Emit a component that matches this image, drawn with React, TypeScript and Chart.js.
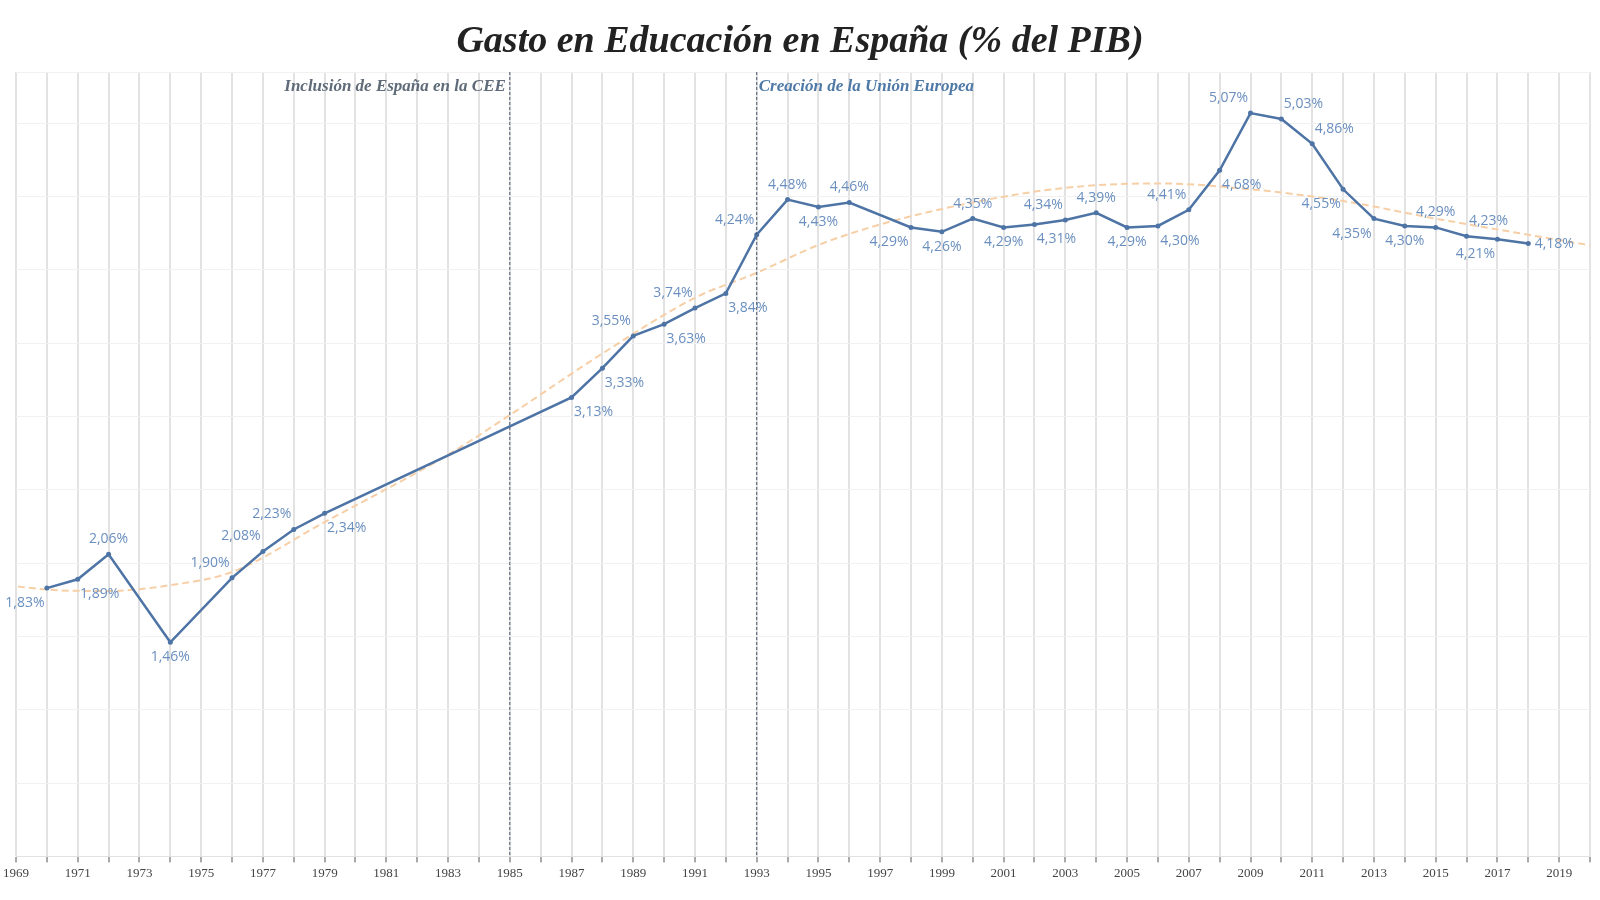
import { useEffect, useRef } from 'react'
import { Chart, registerables } from 'chart.js'

Chart.register(...registerables)

const years = [1970, 1971, 1972, 1974, 1976, 1977, 1978, 1979, 1987, 1988, 1989, 1990, 1991, 1992, 1993, 1994, 1995, 1996, 1998, 1999, 2000, 2001, 2002, 2003, 2004, 2005, 2006, 2007, 2008, 2009, 2010, 2011, 2012, 2013, 2014, 2015, 2016, 2017, 2018]
const gasto = [1.83, 1.89, 2.06, 1.46, 1.90, 2.08, 2.23, 2.34, 3.13, 3.33, 3.55, 3.63, 3.74, 3.84, 4.24, 4.48, 4.43, 4.46, 4.29, 4.26, 4.35, 4.29, 4.31, 4.34, 4.39, 4.29, 4.30, 4.41, 4.68, 5.07, 5.03, 4.86, 4.55, 4.35, 4.30, 4.29, 4.23, 4.21, 4.18]
// label placement per point: a = above, b = below, l/r = shifted left/right
const labelPos = ['bl', 'br', 'a', 'b', 'al', 'al', 'al', 'br', 'br', 'br', 'al', 'br', 'al', 'br', 'al', 'a', 'b', 'a', 'bl', 'b', 'a', 'b', 'br', 'al', 'a', 'b', 'br', 'al', 'br', 'al', 'ar', 'ar', 'bl', 'bl', 'b', 'a', 'ar', 'bl', 'r']

const trendYears = [1968, 1970, 1972, 1974, 1976, 1979, 1983, 1985, 1988, 1991, 1993, 1995, 1997, 2000, 2003, 2006, 2009, 2012, 2015, 2018, 2020.5]
const trendValues = [1.87, 1.82, 1.81, 1.85, 1.94, 2.28, 2.74, 3.01, 3.43, 3.81, 3.98, 4.17, 4.31, 4.46, 4.56, 4.59, 4.55, 4.47, 4.35, 4.24, 4.15]

const events = [
  { year: 1985, text: 'Inclusión de España en la CEE', color: '#5f6b78', align: 'right' as const },
  { year: 1993, text: 'Creación de la Unión Europea', color: '#4e79a7', align: 'left' as const },
]

const fmt = (v: number) => v.toFixed(2).replace('.', ',') + '%'

export default function App() {
  const canvasRef = useRef<HTMLCanvasElement>(null)
  const chartRef = useRef<Chart | null>(null)

  useEffect(() => {
    document.body.style.margin = '0'
    if (!canvasRef.current) return
    if (chartRef.current) chartRef.current.destroy()

    const overlay = {
      id: 'overlay',
      afterDatasetsDraw(chart: any) {
        const ctx = chart.ctx
        const xs = chart.scales.x
        const ys = chart.scales.y
        const area = chart.chartArea
        ctx.save()
        // event lines
        events.forEach(ev => {
          const x = xs.getPixelForValue(ev.year)
          ctx.strokeStyle = '#4a5a70'
          ctx.lineWidth = 1
          ctx.setLineDash([3, 2])
          ctx.beginPath()
          ctx.moveTo(x, area.top)
          ctx.lineTo(x, area.bottom)
          ctx.stroke()
          ctx.setLineDash([])
          ctx.font = 'italic bold 17px "Liberation Serif", serif'
          ctx.fillStyle = ev.color
          ctx.textAlign = ev.align
          ctx.textBaseline = 'middle'
          ctx.fillText(ev.text, ev.align === 'right' ? x - 4 : x + 2, area.top + 15)
        })
        // data labels
        ctx.font = '14px "Open Sans", sans-serif'
        ctx.fillStyle = '#6a8fbf'
        ctx.textBaseline = 'middle'
        ctx.textAlign = 'center'
        years.forEach((yr, i) => {
          const x = xs.getPixelForValue(yr)
          const y = ys.getPixelForValue(gasto[i])
          const p = labelPos[i]
          let dx = 0
          let dy = 0
          if (p.includes('a')) dy = -15
          if (p.includes('b')) dy = 15
          if (p.includes('l')) dx = -22
          if (p.includes('r')) dx = 22
          if (p === 'r') dx = 26
          ctx.fillText(fmt(gasto[i]), x + dx, y + dy)
        })
        // title
        ctx.font = 'italic bold 38px "Liberation Serif", serif'
        ctx.fillStyle = '#222'
        ctx.textAlign = 'center'
        ctx.fillText('Gasto en Educación en España (% del PIB)', 800, 42)
        ctx.restore()
      },
    }

    chartRef.current = new Chart(canvasRef.current, {
      type: 'line',
      data: {
        datasets: [
          {
            label: 'Gasto',
            data: years.map((y, i) => ({ x: y, y: gasto[i] })),
            borderColor: '#4e74a6',
            backgroundColor: '#4e74a6',
            borderWidth: 2.5,
            pointRadius: 2.5,
            pointBorderWidth: 0,
            tension: 0,
            order: 1,
          },
          {
            label: 'Tendencia',
            data: trendYears.map((y, i) => ({ x: y, y: trendValues[i] })),
            borderColor: '#f7cfa6',
            borderWidth: 2,
            borderDash: [7, 4],
            pointRadius: 0,
            cubicInterpolationMode: 'monotone',
            order: 2,
          },
        ],
      },
      options: {
        animation: false,
        responsive: true,
        maintainAspectRatio: false,
        layout: { padding: { top: 72, left: 8, right: 10, bottom: 16 } },
        plugins: { legend: { display: false }, tooltip: { enabled: false } },
        scales: {
          x: {
            type: 'linear',
            min: 1969,
            max: 2020,
            ticks: {
              stepSize: 1,
              autoSkip: false,
              maxRotation: 0,
              color: '#444',
              font: { family: '"Liberation Serif", serif', size: 13 },
              callback: (v: any) => (v % 2 === 1 ? String(v) : ''),
            },
            grid: { color: '#e2e2e2', lineWidth: 2, tickLength: 6, tickColor: '#555', tickWidth: 1 },
            border: { display: true, color: '#e2e2e2' },
          },
          y: {
            min: 0,
            max: 5.35,
            ticks: { stepSize: 0.5, display: false },
            grid: { color: '#f1f1f1', lineWidth: 1, drawTicks: false },
            border: { display: false },
          },
        },
      },
      plugins: [overlay],
    })

    return () => {
      if (chartRef.current) chartRef.current.destroy()
      chartRef.current = null
    }
  }, [])

  return (
    <div style={{ position: 'relative', width: '1600px', height: '900px', background: '#fff' }}>
      <canvas ref={canvasRef} />
    </div>
  )
}
